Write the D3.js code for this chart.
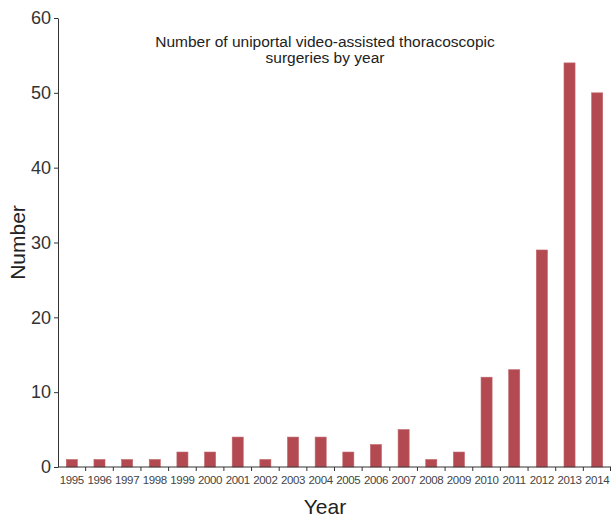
<!doctype html>
<html lang="en">
<head>
    <meta charset="UTF-8">
    <title>Uniportal VATS by year</title>
    <style>
        body { margin: 0; background: #fff; }
        svg { font-family: "Liberation Sans", Arial, sans-serif; }
        .bar { fill: #b44a51; stroke: #c0656b; stroke-width: 0.6; }
        .axis path, .axis line { stroke: #333; }
        .axis--x text { font-size: 11.5px; fill: #444; letter-spacing: -0.35px; }
        .axis--y text { font-size: 18px; fill: #333; }
    </style>
</head>
<body>
    <svg width="611" height="517"></svg>
    <script src="https://cdn.jsdelivr.net/npm/d3@7"></script>
    <script>
    var years = ['1995', '1996', '1997', '1998', '1999', '2000', '2001', '2002', '2003', '2004',
                 '2005', '2006', '2007', '2008', '2009', '2010', '2011', '2012', '2013', '2014'];
    var counts = [1, 1, 1, 1, 2, 2, 4, 1, 4, 4, 2, 3, 5, 1, 2, 12, 13, 29, 54, 50];
    var yTicks = [0, 10, 20, 30, 40, 50, 60];

    var svg = d3.select('svg');
    var plotLeft = 58, plotRight = 611, plotTop = 18, plotBottom = 467;

    var x = d3.scaleBand()
        .domain(years)
        .range([plotLeft, plotRight])
        .paddingInner(0.6)
        .paddingOuter(0.3);
    var y = d3.scaleLinear()
        .domain([0, 60])
        .range([plotBottom, plotTop]);

    svg.selectAll('.bar')
        .data(years)
        .enter().append('rect')
        .attr('class', 'bar')
        .attr('x', function(d) { return x(d); })
        .attr('width', x.bandwidth())
        .attr('y', function(d, i) { return y(counts[i]); })
        .attr('height', function(d, i) { return plotBottom - y(counts[i]); });

    // x axis: ticks sit on the band boundaries, labels in the middle
    var gx = svg.append('g')
        .attr('class', 'axis axis--x')
        .attr('transform', 'translate(0,' + plotBottom + ')');
    gx.append('line')
        .attr('x1', plotLeft).attr('x2', plotRight);
    var step = x.step();
    var bounds = years.slice(1).map(function(d) { return x(d) + x.bandwidth() / 2 - step / 2; });
    gx.selectAll('.tk')
        .data(bounds.concat([plotRight - 0.5]))
        .enter().append('line')
        .attr('class', 'tk')
        .attr('x1', function(d) { return d; })
        .attr('x2', function(d) { return d; })
        .attr('y2', 4);
    gx.selectAll('text')
        .data(years)
        .enter().append('text')
        .attr('x', function(d) { return x(d) + x.bandwidth() / 2; })
        .attr('y', 17)
        .attr('text-anchor', 'middle')
        .text(function(d) { return d; });

    svg.append('g')
        .attr('class', 'axis axis--y')
        .attr('transform', 'translate(' + plotLeft + ',0)')
        .call(d3.axisLeft(y).tickValues(yTicks).tickSize(4).tickPadding(3).tickSizeOuter(0));

    svg.append('text')
        .attr('transform', 'translate(25,' + ((plotTop + plotBottom) / 2) + ') rotate(-90)')
        .attr('text-anchor', 'middle')
        .attr('font-size', '21px')
        .attr('fill', '#222')
        .text('Number');

    svg.append('text')
        .attr('x', 325)
        .attr('y', 514)
        .attr('text-anchor', 'middle')
        .attr('font-size', '21px')
        .attr('fill', '#222')
        .text('Year');

    var title = svg.append('text')
        .attr('text-anchor', 'middle')
        .attr('font-size', '15.5px')
        .attr('fill', '#222');
    title.append('tspan').attr('x', 325).attr('y', 47).text('Number of uniportal video-assisted thoracoscopic');
    title.append('tspan').attr('x', 325).attr('y', 63).text('surgeries by year');
    </script>
</body>
</html>
